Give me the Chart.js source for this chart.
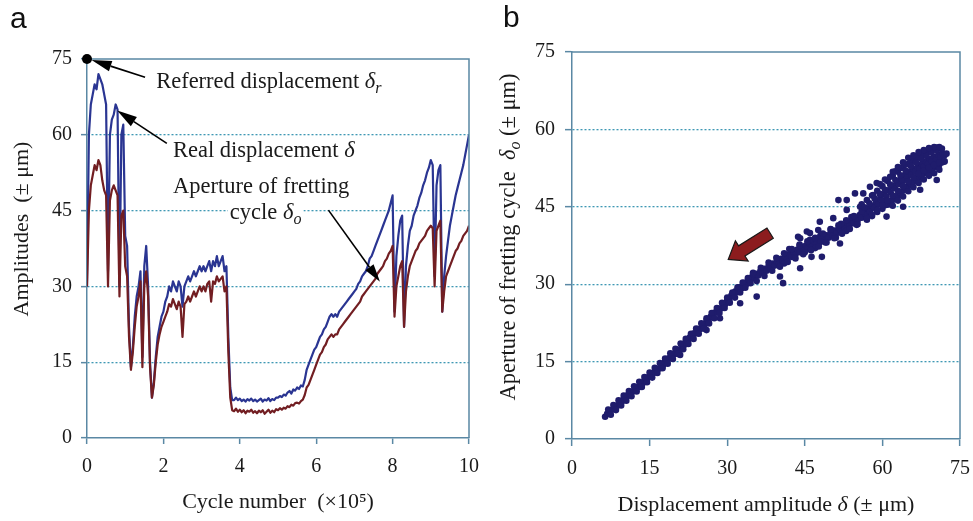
<!DOCTYPE html>
<html>
<head>
<meta charset="utf-8">
<script src="https://cdn.jsdelivr.net/npm/chart.js@4.4.1/dist/chart.umd.min.js"></script>
<style>
  body { margin: 0; background: #fff; width: 973px; height: 521px; overflow: hidden; position: relative; }
  canvas { position: absolute; top: 0; }
  #chartA { left: 0; }
  #chartB { left: 490px; }
</style>
</head>
<body>
<canvas id="chartA" width="490" height="521"></canvas>
<canvas id="chartB" width="483" height="521"></canvas>
<script>
// panel a: cycle number (x10^5) and the two amplitudes
const cycles = [
  0, 0.05, 0.1, 0.15, 0.2, 0.25, 0.3, 0.35, 0.4, 0.45,
  0.5, 0.55, 0.6, 0.65, 0.7, 0.75, 0.8, 0.85, 0.9, 0.95,
  1, 1.05, 1.1, 1.15, 1.2, 1.25, 1.3, 1.35, 1.4, 1.45,
  1.5, 1.55, 1.6, 1.65, 1.7, 1.75, 1.8, 1.85, 1.9, 1.95,
  2, 2.05, 2.1, 2.15, 2.2, 2.25, 2.3, 2.35, 2.4, 2.45,
  2.5, 2.55, 2.6, 2.65, 2.7, 2.75, 2.8, 2.85, 2.9, 2.95,
  3, 3.05, 3.1, 3.15, 3.2, 3.25, 3.3, 3.35, 3.4, 3.45,
  3.5, 3.55, 3.6, 3.65, 3.7, 3.75, 3.8, 3.85, 3.9, 3.95,
  4, 4.05, 4.1, 4.15, 4.2, 4.25, 4.3, 4.35, 4.4, 4.45,
  4.5, 4.55, 4.6, 4.65, 4.7, 4.75, 4.8, 4.85, 4.9, 4.95,
  5, 5.05, 5.1, 5.15, 5.2, 5.25, 5.3, 5.35, 5.4, 5.45,
  5.5, 5.55, 5.6, 5.65, 5.7, 5.75, 5.8, 5.85, 5.9, 5.95,
  6, 6.05, 6.1, 6.15, 6.2, 6.25, 6.3, 6.35, 6.4, 6.45,
  6.5, 6.55, 6.6, 6.65, 6.7, 6.75, 6.8, 6.85, 6.9, 6.95,
  7, 7.05, 7.1, 7.15, 7.2, 7.25, 7.3, 7.35, 7.4, 7.45,
  7.5, 7.55, 7.6, 7.65, 7.7, 7.75, 7.8, 7.85, 7.9, 7.95,
  8, 8.05, 8.1, 8.15, 8.2, 8.25, 8.3, 8.35, 8.4, 8.45,
  8.5, 8.55, 8.6, 8.65, 8.7, 8.75, 8.8, 8.85, 8.9, 8.95,
  9, 9.05, 9.1, 9.15, 9.2, 9.25, 9.3, 9.35, 9.4, 9.45,
  9.5, 9.55, 9.6, 9.65, 9.7, 9.75, 9.8, 9.85, 9.9, 9.95,
  10
];

// real displacement delta (blue)
const realDisp = [
  30, 60, 66, 68, 70, 69, 72, 71, 70, 68,
  66, 33, 60, 63, 64, 66, 65, 30, 60, 62,
  40, 38, 22, 14, 18, 24, 28, 30, 33, 16,
  34, 38, 30, 15, 8, 11, 16, 20, 22, 24,
  25, 27, 28, 30, 29, 31, 30, 29, 31, 30,
  26, 30, 31, 32, 31, 32, 33, 32, 33, 34,
  33, 34, 33, 34, 35, 33, 35, 34, 36, 34,
  35, 36, 33, 34, 20, 10, 7.5, 7.5, 8, 7.5,
  7.8, 7.3, 7.6, 7.2, 7.7, 7.4, 7.8, 7.3, 7.6, 7.2,
  7.5, 7.8, 7.2, 7.6, 7.4, 7.9, 7.3, 7.7, 7.5, 8.0,
  8.0, 8.3, 8.1, 8.6, 8.4, 9.0, 9.3, 8.8, 9.6, 9.4,
  10.0, 9.7, 10.4, 10.2, 11.5, 13.5, 14.5, 15.5, 16.5, 17.5,
  18, 19, 20, 20.5, 21.5, 22, 23, 24, 24.5, 24,
  24.5, 24, 25, 25.5, 26, 26.5, 27, 27.5, 28, 28.5,
  29, 29.5, 30.5, 31, 32, 32.5, 33, 34, 35.5, 36,
  37, 38, 39, 40, 41, 42, 43, 44, 45, 46.5,
  48, 25, 36, 40, 43, 44, 22, 34, 38, 41,
  42, 44, 45, 46, 47.5, 48.5, 50, 51, 52.5, 53.5,
  55, 54, 32, 50, 53, 54, 25, 32, 36, 39,
  42, 44, 46, 48, 49.5, 51, 52.5, 54, 56, 58,
  60
];

// aperture of fretting cycle delta_o (dark red)
const aperture = [
  30, 45, 50, 52, 54, 53, 55, 54, 51, 49,
  48, 30, 47, 49, 50, 49, 48, 28, 44, 45,
  34, 32, 20, 13.5, 17, 22, 26, 28, 31, 14,
  30, 33, 28, 14, 8, 10.5, 15, 18.5, 20.5, 22,
  23, 24, 25, 26.5, 26, 27.5, 26.5, 25.5, 27, 26,
  20, 26.5, 27, 28, 27, 28, 29, 28, 29, 30,
  29, 30, 29, 30.5, 31, 27, 31, 30.5, 32, 31,
  31.5, 32, 29, 30, 17, 8, 5.5, 5.3, 5.8, 5.2,
  5.6, 5.1, 5.5, 4.9, 5.4, 5.2, 5.6, 5.0, 5.3, 4.9,
  5.4, 5.1, 5.5, 4.8, 5.2, 5.6, 5.0, 5.4, 5.1, 5.7,
  5.5, 5.9, 5.6, 6.0, 5.8, 6.3, 6.1, 6.6, 6.4, 6.9,
  7.0, 6.8, 7.3, 7.6, 8.5, 10.0, 10.5, 11.5, 12.5, 13.5,
  14.5, 15.5, 16.5, 17, 18, 18.5, 19.5, 20, 20.5, 20,
  20.5, 20.5, 21.5, 22, 22.5, 23, 23.5, 24, 24.5, 25,
  25.5, 26, 26.5, 27, 28, 28.5, 29, 29.5, 30, 30.5,
  31, 31.5, 32.5, 33, 33.5, 34, 35, 35.5, 36.5, 37,
  38, 24, 30, 32, 34, 35, 22, 29, 32, 34,
  35, 36, 37, 37.5, 38.5, 39, 39.5, 40, 41, 41.5,
  42, 41.5, 30, 41, 42, 43, 25, 29, 32, 33,
  34, 35, 36, 37, 37.5, 38.5, 39, 40, 40.5, 41,
  42
];

// panel b: displacement amplitude delta vs aperture delta_o (scatter)
const dispAmplitude = [
  6.4, 6.8, 7.2, 7.6, 8.0, 8.4, 8.8, 9.2, 9.6, 10.0,
  10.4, 10.8, 11.2, 11.6, 12.0, 12.4, 12.8, 13.2, 13.6, 14.0,
  14.4, 14.8, 15.2, 15.6, 16.0, 16.4, 16.8, 17.2, 17.6, 18.0,
  18.4, 18.8, 19.2, 19.6, 20.0, 20.4, 20.8, 21.2, 21.6, 22.0,
  22.4, 22.8, 23.2, 23.6, 24.0, 24.4, 24.8, 25.2, 25.6, 26.0,
  26.4, 26.8, 27.2, 27.6, 28.0, 28.4, 28.8, 29.2, 29.6, 30.0,
  30.4, 30.8, 31.2, 31.6, 32.0, 32.4, 32.8, 33.2, 33.6, 34.0,
  34.4, 34.8, 35.2, 35.6, 36.0, 36.4, 36.8, 37.2, 37.6, 38.0,
  38.4, 38.8, 39.2, 39.6, 40.0, 40.4, 40.8, 41.2, 41.6, 42.0,
  42.4, 42.8, 43.2, 43.6, 44.0, 44.4, 44.8, 45.2, 45.6, 46.0,
  46.4, 46.8, 47.2, 47.6, 48.0, 48.4, 48.8, 49.2, 49.6, 50.0,
  50.4, 50.8, 51.2, 51.6, 52.0, 52.4, 52.8, 53.2, 53.6, 54.0,
  54.4, 54.8, 55.2, 55.6, 56.0, 56.4, 56.8, 57.2, 57.6, 58.0,
  58.4, 58.8, 59.2, 59.6, 60.0, 60.4, 60.8, 61.2, 61.6, 62.0,
  62.4, 62.8, 63.2, 63.6, 64.0, 64.4, 64.8, 65.2, 65.6, 66.0,
  66.4, 66.8, 67.2, 67.6, 68.0, 68.4, 68.8, 69.2, 69.6, 70.0,
  70.4, 70.8, 71.2, 71.6, 72.0, 72.4,
  56, 57, 58, 59, 60, 61, 62, 63, 64, 65,
  66, 67, 68, 69, 70, 71, 60.5, 62.5, 64.5, 66.5,
  68.5, 70.5, 59.5, 61.5, 63.5, 65.5, 67.5, 69.5,
  57, 58, 59, 60, 61, 62, 63, 64, 65, 66,
  67, 68, 69, 70, 71, 72, 60.5, 62.5, 64.5, 66.5,
  68.5, 70.5, 61.5, 63.5, 65.5, 67.5, 69.5, 71.5,
  41, 43, 45, 47, 49, 51, 53, 55, 42, 44,
  46, 48, 50, 52, 54,
  53.1, 56.3, 57.6, 58.9, 50.5, 47.9, 45.4, 44.1, 53.1, 55.7,
  58.2, 51.5, 54.7, 40.8, 48.3, 51.8, 44.1, 40.2, 67.3, 70.5,
  64, 60.8, 46.3, 35.7, 32.5, 28.6, 26, 20.9, 43.7, 46,
  47.6,
  7, 8, 9, 10, 11, 12, 13, 14, 15, 16,
  17, 18, 19, 20, 21, 22, 23, 24, 25, 26,
  27, 28, 29, 30, 31, 32, 33, 34, 35,
  7.5, 8.5, 9.5, 10.5, 11.5, 12.5, 13.5, 14.5, 15.5, 16.5,
  17.5, 18.5, 19.5, 20.5, 21.5, 22.5, 23.5, 24.5, 25.5, 26.5,
  27.5, 28.5, 29.5, 30.5, 31.5, 32.5, 33.5, 34.5,
  35, 36.5, 38, 39.5, 41, 42.5, 44, 45.5, 47, 48.5,
  50, 51.5, 53, 54.5, 56,
  35.7, 37.2, 38.7, 40.2, 41.7, 43.2, 44.7, 46.2, 47.7, 49.2,
  50.7, 52.2, 53.7, 55.2,
  56.5, 57.5, 58.5, 59.5, 60.5, 61.5, 62.5, 63.5, 64.5, 65.5,
  66.5, 67.5, 68.5, 69.5, 70.5, 71.5,
  57, 58, 59, 60, 61, 62, 63, 64, 65, 66,
  67, 68, 69, 70, 71, 72,
  62, 64, 66, 68, 70, 63, 65, 67, 69, 71,
  62, 64, 66, 68, 70, 63, 65, 67, 69, 71
];

const apertureAmplitude = [
  4.3, 4.9, 5.0, 5.6, 5.8, 6.4, 6.5, 7.1, 7.2, 7.8,
  7.9, 8.5, 8.6, 9.2, 9.3, 9.9, 10.0, 10.6, 10.7, 11.3,
  11.4, 12.0, 12.1, 12.8, 12.9, 13.5, 13.6, 14.2, 14.3, 15.0,
  15.1, 15.7, 15.8, 16.5, 16.5, 17.3, 17.3, 18.1, 18.1, 18.9,
  18.9, 19.7, 19.8, 20.5, 20.5, 21.3, 21.3, 22.1, 22.1, 22.9,
  22.9, 23.7, 23.7, 24.5, 24.5, 25.3, 25.3, 26.1, 26.1, 26.9,
  26.9, 27.8, 27.7, 28.6, 28.5, 29.4, 29.2, 30.2, 29.9, 30.8,
  30.6, 31.4, 31.1, 32.0, 31.7, 32.5, 32.2, 33.0, 32.6, 33.5,
  33.1, 34.0, 33.6, 34.4, 34.0, 34.9, 34.5, 35.3, 34.9, 35.8,
  35.3, 36.3, 35.8, 36.7, 36.2, 37.1, 36.6, 37.5, 37.0, 37.9,
  37.4, 38.3, 37.8, 38.7, 38.2, 39.1, 38.6, 39.5, 39.0, 40.0,
  39.4, 40.4, 39.9, 40.9, 40.3, 41.3, 40.8, 41.8, 41.3, 42.3,
  41.8, 42.8, 42.3, 43.4, 42.9, 44.0, 43.5, 44.6, 44.1, 45.2,
  44.8, 45.9, 45.5, 46.6, 46.2, 47.4, 47.0, 48.2, 47.8, 49.0,
  48.6, 49.8, 49.4, 50.6, 50.1, 51.2, 50.7, 51.8, 51.2, 52.3,
  51.8, 52.8, 52.3, 53.3, 52.8, 53.8, 53.3, 54.3, 53.8, 54.7,
  54.2, 55.1, 54.6, 55.4, 55.0, 55.3,
  45.5, 46.3, 47.2, 48.1, 49.0, 50.0, 51.0, 51.8, 52.6, 53.3,
  54.0, 54.6, 55.2, 55.7, 56.1, 56.3, 50.3, 51.9, 53.2, 54.6,
  55.8, 56.5, 49.4, 50.8, 52.5, 53.9, 55.3, 56.0,
  42.5, 43.2, 44.0, 44.6, 45.4, 46.3, 47.2, 48.1, 49.0, 49.8,
  50.6, 51.4, 52.0, 52.6, 53.2, 53.8, 45.3, 47.0, 48.7, 50.3,
  51.8, 53.0, 45.9, 47.7, 49.5, 51.0, 52.3, 53.6,
  34.0, 35.2, 36.2, 37.0, 38.1, 39.0, 40.3, 41.5, 36.8, 37.7,
  38.6, 39.4, 40.7, 41.7, 43.0,
  46.3, 47.6, 48.9, 49.6, 42.8, 42.1, 40.2, 38.9, 44.4, 45.0,
  47.3, 46.3, 47.6, 30.2, 35.3, 37.9, 33.1, 31.5, 48.3, 50.2,
  45.0, 43.1, 35.3, 27.6, 26.3, 23.4, 21.1, 16.3, 39.2, 39.9,
  40.5,
  5.7, 6.6, 7.5, 8.4, 9.3, 10.2, 11.1, 12.0, 12.9, 13.8,
  14.7, 15.6, 16.6, 17.5, 18.5, 19.4, 20.4, 21.4, 22.4, 23.4,
  24.4, 25.4, 26.4, 27.4, 28.4, 29.4, 30.3, 31.2, 32.0,
  4.7, 5.6, 6.5, 7.4, 8.3, 9.2, 10.1, 11.0, 11.9, 12.8,
  13.7, 14.6, 15.5, 16.5, 17.4, 18.4, 19.4, 20.4, 21.4, 22.4,
  23.4, 24.4, 25.4, 26.4, 27.4, 28.4, 29.3, 30.2,
  32.2, 33.2, 34.2, 35.1, 36.0, 36.8, 37.5, 38.3, 39.0, 39.8,
  40.6, 41.4, 42.4, 43.2, 44.1,
  30.6, 31.6, 32.6, 33.4, 34.3, 35.0, 35.8, 36.6, 37.3, 38.1,
  38.9, 39.8, 40.7, 41.6,
  44.9, 45.7, 46.6, 47.5, 48.3, 49.3, 50.2, 51.1, 52.0, 52.9,
  53.6, 54.3, 54.9, 55.5, 56.0, 56.3,
  42.7, 43.5, 44.4, 45.3, 46.2, 47.2, 48.1, 49.0, 49.9, 50.7,
  51.4, 52.0, 52.6, 53.1, 53.6, 53.8,
  45.2, 47.0, 48.8, 50.3, 51.5, 46.2, 48.0, 49.6, 51.0, 52.2,
  51.8, 53.6, 55.0, 56.0, 56.6, 52.7, 54.5, 55.6, 56.4, 56.6
];

const ampTicks = [0, 15, 30, 45, 60, 75];

const SERIF = "'Liberation Serif', 'Times New Roman', serif";
const AXIS_COLOR = "#5a88a4";
const GRID_COLOR = "#3f98b4";
const TEXT_COLOR = "#1a1a1a";

function font(size, italic) {
  return (italic ? "italic " : "") + size + "px " + SERIF;
}

// parts: [text, style] with style "n" normal, "i" italic, "sub" italic subscript
function richWidth(ctx, parts, size) {
  let w = 0;
  parts.forEach(([t, s]) => {
    ctx.font = font(s === "sub" ? Math.round(size * 0.7) : size, s !== "n");
    w += ctx.measureText(t).width;
  });
  return w;
}

function drawRich(ctx, parts, x, y, size, withBg) {
  const w = richWidth(ctx, parts, size);
  if (withBg) {
    ctx.fillStyle = "#fff";
    ctx.fillRect(x - 2, y - size * 0.78, w + 4, size * 1.05);
  }
  ctx.fillStyle = TEXT_COLOR;
  ctx.textBaseline = "alphabetic";
  ctx.textAlign = "left";
  let cx = x;
  parts.forEach(([t, s]) => {
    const sub = s === "sub";
    ctx.font = font(sub ? Math.round(size * 0.7) : size, s !== "n");
    ctx.fillText(t, cx, sub ? y + size * 0.22 : y);
    cx += ctx.measureText(t).width;
  });
  return w;
}

function drawArrow(ctx, x1, y1, x2, y2, headLen, headWidth) {
  const ang = Math.atan2(y2 - y1, x2 - x1);
  const bx = x2 - headLen * Math.cos(ang);
  const by = y2 - headLen * Math.sin(ang);
  const hw = headWidth / 2;
  ctx.save();
  ctx.strokeStyle = "#000";
  ctx.fillStyle = "#000";
  ctx.lineWidth = 1.6;
  ctx.beginPath();
  ctx.moveTo(x1, y1);
  ctx.lineTo(bx, by);
  ctx.stroke();
  ctx.beginPath();
  ctx.moveTo(x2, y2);
  ctx.lineTo(bx + hw * Math.sin(ang), by - hw * Math.cos(ang));
  ctx.lineTo(bx - hw * Math.sin(ang), by + hw * Math.cos(ang));
  ctx.closePath();
  ctx.fill();
  ctx.restore();
}

function drawBlockArrow(ctx, sx, sy, tx, ty) {
  const ang = Math.atan2(ty - sy, tx - sx);
  const len = Math.hypot(tx - sx, ty - sy);
  const headLen = 16, headHalf = 12, shaftHalf = 6;
  ctx.save();
  ctx.translate(sx, sy);
  ctx.rotate(ang);
  ctx.beginPath();
  ctx.moveTo(0, -shaftHalf);
  ctx.lineTo(len - headLen, -shaftHalf);
  ctx.lineTo(len - headLen, -headHalf);
  ctx.lineTo(len, 0);
  ctx.lineTo(len - headLen, headHalf);
  ctx.lineTo(len - headLen, shaftHalf);
  ctx.lineTo(0, shaftHalf);
  ctx.closePath();
  ctx.fillStyle = "#8c1c1e";
  ctx.fill();
  ctx.strokeStyle = "#1a1a1a";
  ctx.lineWidth = 1.2;
  ctx.stroke();
  ctx.restore();
}

// top and right edges of the plot frame
function drawFrame(ctx, area) {
  ctx.save();
  ctx.strokeStyle = AXIS_COLOR;
  ctx.lineWidth = 1.5;
  ctx.beginPath();
  ctx.moveTo(area.left, area.top);
  ctx.lineTo(area.right, area.top);
  ctx.lineTo(area.right, area.bottom);
  ctx.stroke();
  ctx.restore();
}

function drawPanelLetter(ctx, letter, x, y) {
  ctx.save();
  ctx.fillStyle = "#111";
  ctx.font = "30px 'Liberation Sans', Arial, sans-serif";
  ctx.textBaseline = "alphabetic";
  ctx.fillText(letter, x, y);
  ctx.restore();
}

function drawYTitle(ctx, parts, x, cy, size) {
  ctx.save();
  ctx.translate(x, cy);
  ctx.rotate(-Math.PI / 2);
  const w = richWidth(ctx, parts, size);
  drawRich(ctx, parts, -w / 2, 0, size, false);
  ctx.restore();
}

function gridColor(c) {
  if (!c.tick) return GRID_COLOR;
  return (c.tick.value === 0 || c.tick.value === 75) ? "rgba(0,0,0,0)" : GRID_COLOR;
}

// fix the axis box size and drop the extra padding chart.js reserves for edge labels
function fixHeight(h) {
  return s => { s.height = h; s.paddingLeft = 0; s.paddingRight = 0; };
}
function fixWidth(w) {
  return s => { s.width = w; s.paddingTop = 0; s.paddingBottom = 0; };
}

function axisOptions(min, max, step, gridOnArea, fitSize, tickLen, pad) {
  return {
    type: "linear",
    min: min,
    max: max,
    afterBuildTicks: step === 15 ? (s => { s.ticks = ampTicks.map(v => ({ value: v })); }) : undefined,
    ticks: {
      stepSize: step,
      color: TEXT_COLOR,
      font: { family: SERIF, size: 20 },
      padding: pad,
      maxRotation: 0
    },
    grid: {
      drawOnChartArea: gridOnArea,
      color: gridColor,
      lineWidth: 1.3,
      tickLength: tickLen,
      tickColor: AXIS_COLOR,
      tickWidth: 1.5,
      tickBorderDash: []
    },
    border: { color: AXIS_COLOR, width: 1.5, dash: [2, 2] },
    afterFit: fitSize
  };
}

const annotateA = {
  id: "annotateA",
  afterDraw(chart) {
    const { ctx, chartArea, scales: { x, y } } = chart;
    drawFrame(ctx, chartArea);
    drawPanelLetter(ctx, "a", 10, 28);

    // referred displacement marker at the top-left corner
    ctx.save();
    ctx.fillStyle = "#000";
    ctx.beginPath();
    ctx.arc(x.getPixelForValue(0), y.getPixelForValue(75), 5, 0, Math.PI * 2);
    ctx.fill();
    ctx.restore();

    drawArrow(ctx, x.getPixelForValue(1.52), y.getPixelForValue(71.4),
      x.getPixelForValue(0.12), y.getPixelForValue(74.8), 20, 11);
    drawArrow(ctx, x.getPixelForValue(2.09), y.getPixelForValue(58.3),
      x.getPixelForValue(0.79), y.getPixelForValue(64.8), 20, 11);
    drawArrow(ctx, x.getPixelForValue(6.32), y.getPixelForValue(45.1),
      x.getPixelForValue(7.67), y.getPixelForValue(30.9), 18, 10);

    const size = 22.5;
    drawRich(ctx, [["Referred displacement ", "n"], ["δ", "i"], ["r", "sub"]],
      x.getPixelForValue(1.81), y.getPixelForValue(69.3), size, true);
    drawRich(ctx, [["Real displacement ", "n"], ["δ", "i"]],
      x.getPixelForValue(2.25), y.getPixelForValue(55.6), size, true);
    drawRich(ctx, [["Aperture of fretting", "n"]],
      x.getPixelForValue(2.25), y.getPixelForValue(48.5), size, true);
    drawRich(ctx, [["cycle ", "n"], ["δ", "i"], ["o", "sub"]],
      x.getPixelForValue(3.74), y.getPixelForValue(43.3), size, true);

    // axis titles
    const xt = [["Cycle number  (×10⁵)", "n"]];
    const w = richWidth(ctx, xt, 22);
    drawRich(ctx, xt, (chartArea.left + chartArea.right) / 2 - w / 2, 508, 22, false);
    drawYTitle(ctx, [["Amplitudes  (± μm)", "n"]], 28, 229, 22);
  }
};

const annotateB = {
  id: "annotateB",
  afterDraw(chart) {
    const { ctx, chartArea, scales: { x, y } } = chart;
    drawFrame(ctx, chartArea);
    drawPanelLetter(ctx, "b", 13, 27);

    drawBlockArrow(ctx, x.getPixelForValue(38.3), y.getPixelForValue(39.9),
      x.getPixelForValue(30.2), y.getPixelForValue(34.8));

    const xt = [["Displacement amplitude ", "n"], ["δ", "i"], [" (± μm)", "n"]];
    const w = richWidth(ctx, xt, 22);
    drawRich(ctx, xt, (chartArea.left + chartArea.right) / 2 - w / 2, 511, 22, false);
    drawYTitle(ctx, [["Aperture of fretting cycle  ", "n"], ["δ", "i"], ["o", "sub"], [" (± μm)", "n"]], 25, 237, 22.5);
  }
};

const common = {
  responsive: false,
  animation: false,
  devicePixelRatio: 1,
  events: [],
  plugins: { legend: { display: false }, tooltip: { enabled: false } }
};

new Chart(document.getElementById("chartA"), {
  type: "line",
  data: {
    datasets: [
      {
        label: "Real displacement",
        data: cycles.map((c, i) => ({ x: c, y: realDisp[i] })),
        borderColor: "#2a3592",
        borderWidth: 2.2,
        borderJoinStyle: "round",
        pointRadius: 0,
        tension: 0,
        order: 1
      },
      {
        label: "Aperture of fretting cycle",
        data: cycles.map((c, i) => ({ x: c, y: aperture[i] })),
        borderColor: "#721e22",
        borderWidth: 2.2,
        borderJoinStyle: "round",
        pointRadius: 0,
        tension: 0,
        order: 0
      }
    ]
  },
  options: {
    ...common,
    layout: { padding: { left: 0, top: 59, right: 21, bottom: 0 } },
    scales: {
      x: axisOptions(0, 10, 2, false, fixHeight(83), 6, 11),
      y: axisOptions(0, 75, 15, true, fixWidth(87), 6, 9)
    }
  },
  plugins: [annotateA]
});

new Chart(document.getElementById("chartB"), {
  type: "scatter",
  data: {
    datasets: [{
      label: "Aperture vs displacement",
      data: dispAmplitude.map((d, i) => ({ x: d, y: apertureAmplitude[i] })),
      backgroundColor: "#1f1c6c",
      borderWidth: 0,
      pointRadius: 3.3
    }]
  },
  options: {
    ...common,
    layout: { padding: { left: 0, top: 52, right: 13, bottom: 0 } },
    scales: {
      x: axisOptions(0, 75, 15, false, fixHeight(82), 7, 11),
      y: axisOptions(0, 75, 15, true, fixWidth(82), 7, 10)
    }
  },
  plugins: [annotateB]
});
</script>
</body>
</html>
